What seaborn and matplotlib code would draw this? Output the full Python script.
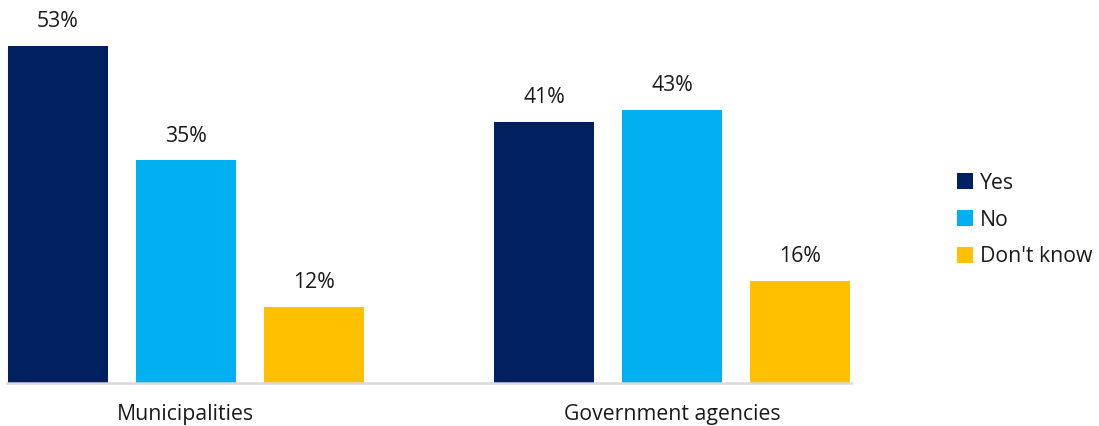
import matplotlib
matplotlib.use("Agg")
import matplotlib.pyplot as plt
import seaborn as sns
import pandas as pd

# Survey answers per organisation type (percent)
groups = ["Municipalities", "Government agencies"]
answers = ["Yes", "No", "Don't know"]
yes_vals = [53, 41]
no_vals = [35, 43]
dont_know_vals = [12, 16]
colors = ["#002060", "#00B0F0", "#FFC000"]

df = pd.DataFrame({
    "group": groups * 3,
    "answer": [a for a in answers for _ in groups],
    "value": yes_vals + no_vals + dont_know_vals,
})

sns.set_style("white")
plt.rcParams["font.family"] = ["Open Sans", "DejaVu Sans"]
FS = 15.3

W, H = 1099, 426
fig = plt.figure(figsize=(W / 100, H / 100), dpi=100)
ax = fig.add_axes([7 / W, 1 - 383 / H, 844 / W, 381.5 / H])

sns.barplot(data=df, x="group", y="value", hue="answer", order=groups,
            hue_order=answers, palette=colors, width=0.79, gap=0.22,
            saturation=1, errorbar=None, linewidth=0, ax=ax)

# Value labels above bars
for container in ax.containers:
    ax.bar_label(container, labels=[f"{v:.0f}%" for v in container.datavalues],
                 padding=10, fontsize=FS, color="#1a1a1a")

ax.set_xlim(-0.368, 1.368)
ax.set_ylim(0, 60)
ax.set_xlabel("")
ax.set_ylabel("")
ax.set_yticks([])
ax.tick_params(axis="x", length=0, pad=15, labelsize=FS, labelcolor="#1a1a1a")
for side in ["top", "left", "right"]:
    ax.spines[side].set_visible(False)
ax.spines["bottom"].set_color("#D9D9D9")
ax.spines["bottom"].set_linewidth(1.8)

leg = ax.legend(loc="center left", bbox_to_anchor=(957 / W, 1 - 220 / H),
                bbox_transform=fig.transFigure, frameon=False, fontsize=FS,
                handlelength=0.76, handleheight=0.76, handletextpad=0.3,
                labelspacing=0.75, borderaxespad=0, borderpad=0)
for t in leg.get_texts():
    t.set_color("#1a1a1a")

fig.savefig("out.png", dpi=100)
